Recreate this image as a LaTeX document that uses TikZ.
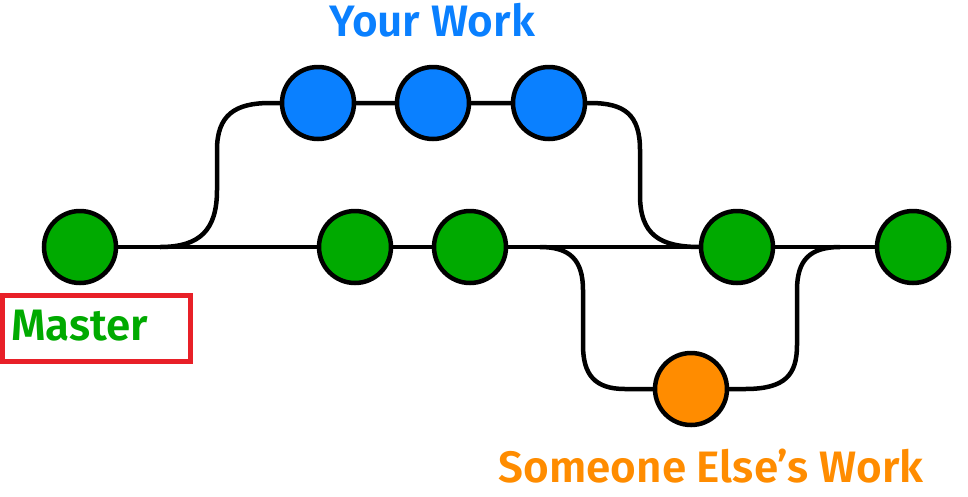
\documentclass[tikz,border=0pt]{standalone}
\usepackage{fontspec}
\setmainfont{Fira Sans}[BoldFont={Fira Sans SemiBold}]
\begin{document}
\definecolor{cb}{RGB}{10,128,255}
\definecolor{cg}{RGB}{0,170,0}
\definecolor{co}{RGB}{255,140,0}
\definecolor{cr}{RGB}{232,32,40}
\begin{tikzpicture}[x=1pt,y=-1pt,
  commit/.style={circle,draw=black,line width=4.5pt,minimum size=72pt,inner sep=0pt},
  gc/.style={commit,fill=cg}, bc/.style={commit,fill=cb}, oc/.style={commit,fill=co},
  link/.style={line width=4.5pt,black},
  lbl/.style={font=\bfseries\fontsize{44}{48}\selectfont,inner sep=0pt}]
\useasboundingbox (0,0) rectangle (968,496);
\coordinate (b1) at (160,247); \coordinate (b2) at (590,103);
\coordinate (b3) at (540,247); \coordinate (b4) at (840,247);
\coordinate (m1) at (700,247); \coordinate (ob) at (745,389);
\draw[link] (80,247) -- (913,247);
\draw[link] (b1) .. controls (200,247) and (217,230) .. (217,190) -- (217,150) .. controls (217,115) and (235,103) .. (270,103) -- (549,103) -- (b2)
  .. controls (625,103) and (640,115) .. (640,150) -- (640,195) .. controls (640,235) and (660,247) .. (m1);
\draw[link] (b3) .. controls (570,247) and (583,260) .. (583,290) -- (583,345) .. controls (583,375) and (595,389) .. (625,389) -- (ob)
  .. controls (785,389) and (797,375) .. (797,345) -- (797,290) .. controls (797,260) and (810,247) .. (b4);
\node[gc] (g1) at (80,247) {};
\node[gc] (g2) at (355,247) {};
\node[gc] (g3) at (470,247) {};
\node[gc] (g4) at (737,247) {};
\node[gc] (g5) at (913,247) {};
\node[bc] (u1) at (318,103) {};
\node[bc] (u2) at (433,103) {};
\node[bc] (u3) at (549,103) {};
\node[oc] (o1) at (691,389) {};
\node[lbl,text=cb] (tw) at (432,20) {Your Work};
\node[lbl,text=co] (ts) at (711,466) {Someone Else’s Work};
\node[lbl,text=cg,anchor=west] (tm) at (11,326) {Master};
\draw[cr,line width=5pt] (2.5,295.5) rectangle (190,361);
\end{tikzpicture}
\end{document}
